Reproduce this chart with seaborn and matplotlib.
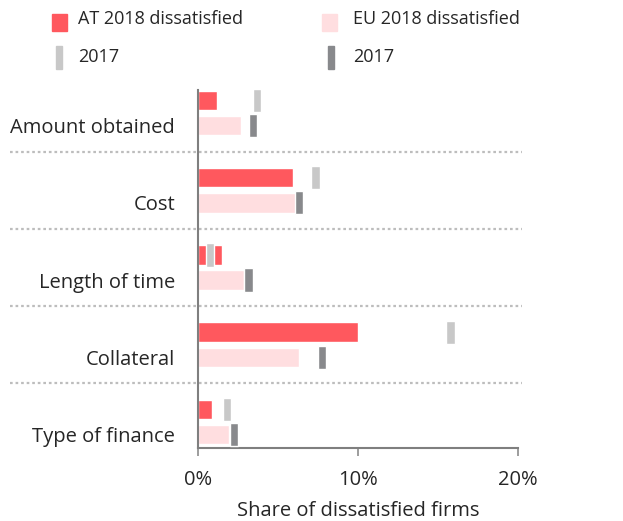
import numpy as np
import pandas as pd
import matplotlib
matplotlib.use("Agg")
import matplotlib.pyplot as plt
import matplotlib.transforms as mtransforms
from matplotlib.patches import Rectangle
import seaborn as sns

categories = ["Amount obtained", "Cost", "Length of time", "Collateral", "Type of finance"]
at_2018 = [1.2, 5.95, 1.5, 10.0, 0.9]
eu_2018 = [2.7, 6.1, 2.9, 6.3, 1.95]
at_2017 = [3.7, 7.35, 0.75, 15.8, 1.8]
eu_2017 = [3.45, 6.3, 3.15, 7.75, 2.25]
x_ticks = [0, 10, 20]
x_tick_labels = ["0%", "10%", "20%"]

RED = "#FF585E"
PINK = "#FFDEE0"
LGREY = "#C8C8C8"
DGREY = "#88898C"

sns.set_theme(style="white")
plt.rcParams["font.family"] = ["Open Sans", "DejaVu Sans"]
TXT = "#262626"
FS = 14.5
LFS = 13

fig = plt.figure(figsize=(6.23, 5.21), dpi=100)
ax = fig.add_axes([198/623, 1-448/521, (517.7-198)/623, (448-90)/521])

df = pd.DataFrame({
    "category": categories * 2,
    "value": at_2018 + eu_2018,
    "series": ["AT 2018 dissatisfied"] * len(categories) + ["EU 2018 dissatisfied"] * len(categories),
})
sns.barplot(data=df, y="category", x="value", hue="series", order=categories,
            palette=[RED, PINK], width=0.65, gap=0.22, dodge=True, orient="h",
            saturation=1, legend=False, ax=ax)

off = 0.1625
pos = np.arange(len(categories))
mw = 0.52
mh = 0.30
ax.barh(pos - off, [mw]*len(at_2017), left=np.array(at_2017) - mw/2, height=mh, color=LGREY, zorder=3)
ax.barh(pos + off, [mw]*len(eu_2017), left=np.array(eu_2017) - mw/2, height=mh, color=DGREY, zorder=3)

ax.set_xlim(0, 20)
ax.set_ylim(4 + 26/77.25, -23/77.25)
ax.set_xticks(x_ticks)
ax.set_xticklabels(x_tick_labels, fontsize=FS, color=TXT)
ax.set_yticks(pos + off)
ax.set_yticklabels(categories, fontsize=FS, color=TXT)
ax.set_xlabel("Share of dissatisfied firms", fontsize=FS, color=TXT, labelpad=8)
ax.set_ylabel("")
ax.tick_params(axis="x", length=6, width=1.2, color="#8C8C8C", bottom=True, pad=9.5)
ax.tick_params(axis="y", length=0, pad=16.5)
for s in ["top", "right"]:
    ax.spines[s].set_visible(False)
for s in ["left", "bottom"]:
    ax.spines[s].set_color("#7F7F7F")
    ax.spines[s].set_linewidth(1.5)
ax.grid(False)

trans = mtransforms.blended_transform_factory(fig.transFigure, ax.transData)
for k in range(len(categories) - 1):
    ax.plot([10/623, 522/623], [k + 0.5, k + 0.5], transform=trans, clip_on=False,
            color="#BDBDBD", lw=1.6, ls=(0, (1.2, 1.3)), zorder=1)

# legend
def frect(x0, y0, w, h, c):
    fig.patches.append(Rectangle((x0/623, 1-(y0+h)/521), w/623, h/521,
                                 transform=fig.transFigure, color=c))
frect(52, 13.7, 15, 17, RED)
frect(322, 13.7, 15, 17, PINK)
frect(55.7, 46, 6.6, 23, LGREY)
frect(327.7, 46, 6.6, 23, DGREY)
for x, y, t in [(78, 19.5, "AT 2018 dissatisfied"), (353, 19.5, "EU 2018 dissatisfied"),
                (78, 57.5, "2017"), (353, 57.5, "2017")]:
    fig.text(x/623, 1-y/521, t, fontsize=LFS, color=TXT, va="center", ha="left")

fig.savefig("out.png", dpi=100)
